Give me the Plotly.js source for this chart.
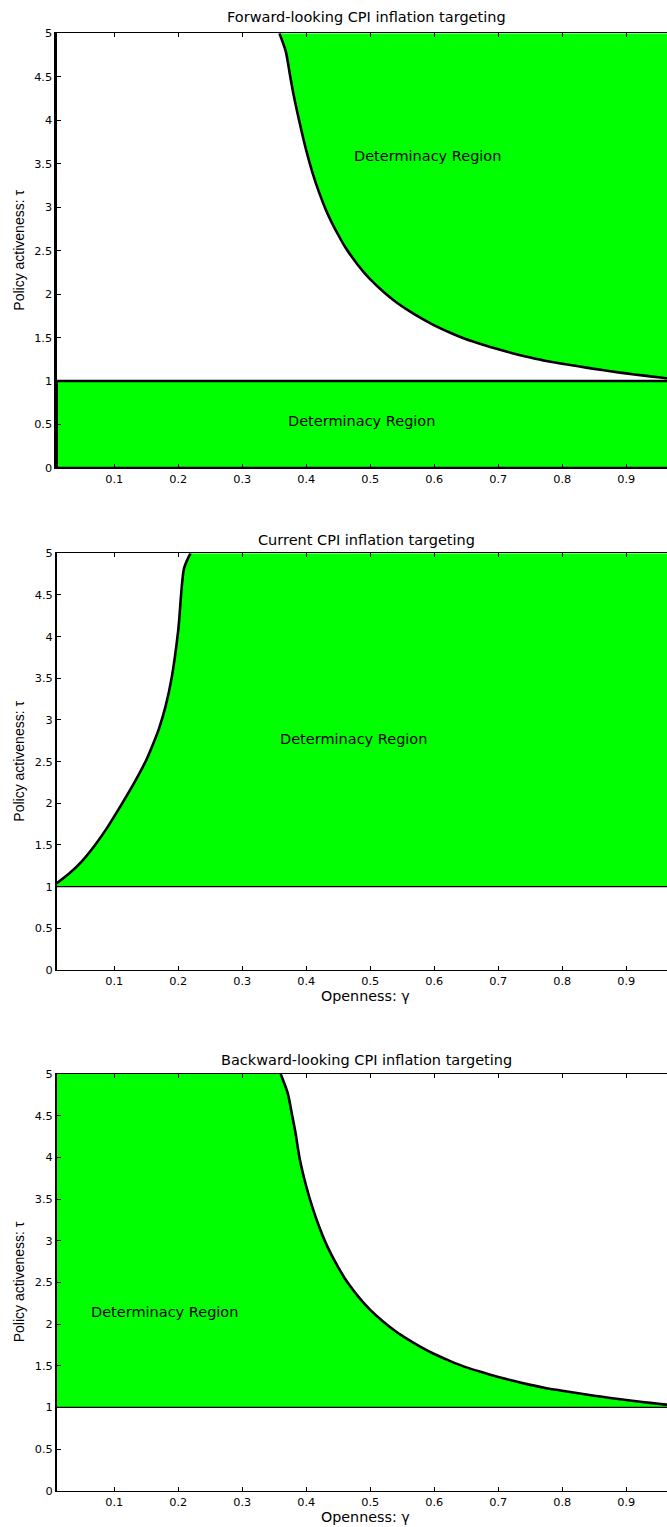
<!DOCTYPE html>
<html>
<head>
<meta charset="utf-8">
<script src="https://cdn.plot.ly/plotly-3.0.1.min.js"></script>
<style>
  html, body { margin: 0; padding: 0; background: #fff; overflow: hidden; }
  #chart { width: 667px; height: 1527px; }
</style>
</head>
<body>
<div id="chart"></div>
<script>
// ---------------- data ----------------
const GAMMA_MIN = 0.01;
const GAMMA_MAX = 0.99;
const TAU_MIN = 0;
const TAU_ONE = 1;
const TAU_MAX = 5;

const gammaTicks = [0.1, 0.2, 0.3, 0.4, 0.5, 0.6, 0.7, 0.8, 0.9];
const gammaTickLabels = ["0.1", "0.2", "0.3", "0.4", "0.5", "0.6", "0.7", "0.8", "0.9"];
const tauTicks = [0, 0.5, 1, 1.5, 2, 2.5, 3, 3.5, 4, 4.5, 5];
const tauTickLabels = ["0", "0.5", "1", "1.5", "2", "2.5", "3", "3.5", "4", "4.5", "5"];

const panelTitles = [
  "Forward-looking CPI inflation targeting",
  "Current CPI inflation targeting",
  "Backward-looking CPI inflation targeting"
];
const regionLabel = "Determinacy Region";
const xTitle = "Openness: \u03b3";
const yTitle = "Policy activeness: \u03c4";

// Forward-looking boundary
const fwdGamma = [0.358, 0.368, 0.375, 0.38, 0.39, 0.40, 0.41, 0.42, 0.43, 0.44, 0.45, 0.46, 0.47, 0.48, 0.49, 0.50,
  0.52, 0.54, 0.56, 0.58, 0.60, 0.625, 0.65, 0.675, 0.70, 0.725, 0.75, 0.775, 0.80, 0.825, 0.85, 0.875, 0.90, 0.925, 0.95, 0.975, 0.99];
const fwdTau = [5.0, 4.79, 4.5, 4.3, 3.96, 3.65, 3.39, 3.17, 2.98, 2.82, 2.68, 2.55, 2.44, 2.34, 2.25, 2.17,
  2.03, 1.91, 1.81, 1.72, 1.64, 1.555, 1.48, 1.42, 1.365, 1.315, 1.27, 1.23, 1.20, 1.17, 1.14, 1.113, 1.088, 1.065, 1.043, 1.022, 1.01];

// Current boundary
const curGamma = [0.01, 0.03, 0.05, 0.07, 0.09, 0.11, 0.13, 0.15, 0.16, 0.17, 0.18, 0.19, 0.20, 0.209, 0.219];
const curTau = [1.04, 1.16, 1.31, 1.50, 1.72, 1.97, 2.23, 2.52, 2.70, 2.90, 3.16, 3.52, 4.08, 4.82, 5.0];

// Backward-looking boundary
const bwdGamma = [0.36, 0.371, 0.378, 0.383, 0.39, 0.40, 0.41, 0.42, 0.43, 0.44, 0.45, 0.46, 0.47, 0.48, 0.49, 0.50,
  0.52, 0.54, 0.56, 0.58, 0.60, 0.625, 0.65, 0.675, 0.70, 0.725, 0.75, 0.775, 0.80, 0.825, 0.85, 0.875, 0.90, 0.925, 0.95, 0.975, 0.99];
const bwdTau = [5.0, 4.77, 4.5, 4.3, 3.97, 3.65, 3.39, 3.17, 2.98, 2.82, 2.68, 2.55, 2.44, 2.34, 2.25, 2.17,
  2.03, 1.91, 1.81, 1.72, 1.64, 1.555, 1.48, 1.42, 1.365, 1.315, 1.27, 1.23, 1.20, 1.17, 1.14, 1.113, 1.088, 1.065, 1.043, 1.022, 1.01];

// ---------------- styling ----------------
const GREEN = "#00ff00";
const W = 667, H = 1527;
const ML = 57;
const X_RANGE = [0.0105, 0.9636];
const TEXT_FONT = "DejaVu Sans";
const TICK_FONT = { family: "DejaVu Sans", size: 11.3, color: "#000" };

function pyToPaper(py) { return 1 - py / H; }
function pxToPaper(px) { return (px - ML) / (W - ML); }

const domains = [
  [pyToPaper(468), pyToPaper(33.3)],
  [pyToPaper(970), pyToPaper(553.3)],
  [pyToPaper(1490.7), pyToPaper(1074)]
];

const curveLine = { color: "#000", width: 2.6, shape: "spline", smoothing: 0.7 };

const traces = [];
// Panel 1: lower determinacy band
traces.push({
  x: [GAMMA_MIN, GAMMA_MAX, GAMMA_MAX, GAMMA_MIN, GAMMA_MIN],
  y: [TAU_MIN, TAU_MIN, TAU_ONE, TAU_ONE, TAU_MIN],
  xaxis: "x", yaxis: "y", mode: "lines", fill: "toself", fillcolor: GREEN,
  line: { color: "#000", width: 2.6 }, hoverinfo: "skip", showlegend: false
});
// Panel 1: upper determinacy region (right of curve)
traces.push({
  x: fwdGamma.concat([GAMMA_MAX, fwdGamma[0]]),
  y: fwdTau.concat([TAU_MAX, TAU_MAX]),
  xaxis: "x", yaxis: "y", mode: "lines", fill: "toself", fillcolor: GREEN,
  line: { width: 0 }, hoverinfo: "skip", showlegend: false
});
traces.push({
  x: fwdGamma, y: fwdTau, xaxis: "x", yaxis: "y", mode: "lines",
  line: curveLine, hoverinfo: "skip", showlegend: false
});

// Panel 2
traces.push({
  x: curGamma.concat([GAMMA_MAX, GAMMA_MAX, curGamma[0]]),
  y: curTau.concat([TAU_MAX, TAU_ONE, TAU_ONE]),
  xaxis: "x2", yaxis: "y2", mode: "lines", fill: "toself", fillcolor: GREEN,
  line: { width: 0 }, hoverinfo: "skip", showlegend: false
});
traces.push({
  x: [GAMMA_MIN, GAMMA_MAX], y: [TAU_ONE, TAU_ONE], xaxis: "x2", yaxis: "y2", mode: "lines",
  line: { color: "#000", width: 1.2 }, hoverinfo: "skip", showlegend: false
});
traces.push({
  x: curGamma, y: curTau, xaxis: "x2", yaxis: "y2", mode: "lines",
  line: curveLine, hoverinfo: "skip", showlegend: false
});

// Panel 3
traces.push({
  x: [GAMMA_MIN, GAMMA_MIN].concat(bwdGamma, [GAMMA_MAX]),
  y: [TAU_ONE, TAU_MAX].concat(bwdTau, [TAU_ONE]),
  xaxis: "x3", yaxis: "y3", mode: "lines", fill: "toself", fillcolor: GREEN,
  line: { width: 0 }, hoverinfo: "skip", showlegend: false
});
traces.push({
  x: [GAMMA_MIN, GAMMA_MAX], y: [TAU_ONE, TAU_ONE], xaxis: "x3", yaxis: "y3", mode: "lines",
  line: { color: "#000", width: 1.2 }, hoverinfo: "skip", showlegend: false
});
traces.push({
  x: bwdGamma, y: bwdTau, xaxis: "x3", yaxis: "y3", mode: "lines",
  line: curveLine, hoverinfo: "skip", showlegend: false
});

function xAxis(anchor) {
  return {
    anchor: anchor, domain: [0, 1], range: X_RANGE,
    tickvals: gammaTicks, ticktext: gammaTickLabels,
    ticks: "inside", ticklen: 4, tickwidth: 1, tickcolor: "#000",
    showline: true, linecolor: "#000", linewidth: 1.3, mirror: "ticks",
    showgrid: false, zeroline: false, tickfont: TICK_FONT, fixedrange: true
  };
}
function yAxis(anchor, domain, lw) {
  return {
    anchor: anchor, domain: domain, range: [TAU_MIN, TAU_MAX],
    tickvals: tauTicks, ticktext: tauTickLabels,
    ticks: "inside", ticklen: 4, tickwidth: 1, tickcolor: "#000",
    showline: true, linecolor: "#000", linewidth: lw, mirror: false,
    showgrid: false, zeroline: false, tickfont: TICK_FONT, fixedrange: true
  };
}

const annotations = [];
const titleY = [16.7, 539.5, 1059.5];
const yTitleY = [250.7, 761.7, 1282.3];
for (let i = 0; i < 3; i++) {
  annotations.push({
    text: panelTitles[i], xref: "paper", yref: "paper",
    x: pxToPaper(366), y: pyToPaper(titleY[i]), xanchor: "center", yanchor: "middle",
    showarrow: false, font: { family: TEXT_FONT, size: 14.5, color: "#000" }
  });
  annotations.push({
    text: yTitle, xref: "paper", yref: "paper", textangle: -90,
    x: pxToPaper(19), y: pyToPaper(yTitleY[i]), xanchor: "center", yanchor: "middle",
    showarrow: false, font: { family: "Liberation Sans", size: 14, color: "#000" }
  });
}
[996, 1516.7].forEach(function (py) {
  annotations.push({
    text: xTitle, xref: "paper", yref: "paper",
    x: pxToPaper(365.5), y: pyToPaper(py), xanchor: "center", yanchor: "middle",
    showarrow: false, font: { family: TEXT_FONT, size: 14.3, color: "#000" }
  });
});
// Region labels (data coordinates)
const labelFont = { family: TEXT_FONT, size: 14.5, color: "#000" };
annotations.push({ text: regionLabel, xref: "x", yref: "y", x: 0.589, y: 3.59, showarrow: false, font: labelFont });
annotations.push({ text: regionLabel, xref: "x", yref: "y", x: 0.487, y: 0.544, showarrow: false, font: labelFont });
annotations.push({ text: regionLabel, xref: "x2", yref: "y2", x: 0.473, y: 2.77, showarrow: false, font: labelFont });
annotations.push({ text: regionLabel, xref: "x3", yref: "y3", x: 0.179, y: 2.14, showarrow: false, font: labelFont });

const layout = {
  width: W, height: H,
  margin: { l: ML, r: 0, t: 0, b: 0, pad: 0 },
  paper_bgcolor: "#fff", plot_bgcolor: "#fff",
  showlegend: false,
  font: { family: TEXT_FONT, color: "#000" },
  xaxis: xAxis("y"), yaxis: yAxis("x", domains[0], 2.6),
  xaxis2: xAxis("y2"), yaxis2: yAxis("x2", domains[1], 2),
  xaxis3: xAxis("y3"), yaxis3: yAxis("x3", domains[2], 2),
  annotations: annotations
};

Plotly.newPlot("chart", traces, layout, { displayModeBar: false, staticPlot: true });
</script>
</body>
</html>
